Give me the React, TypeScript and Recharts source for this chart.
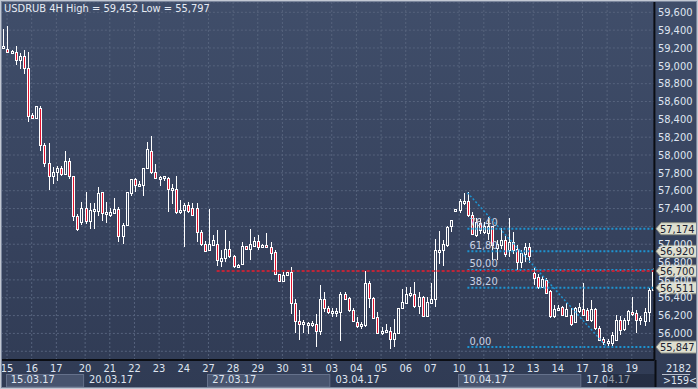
import React from 'react';
import { ComposedChart, Bar, XAxis, YAxis, CartesianGrid, ReferenceLine } from 'recharts';

// ---- data (USDRUB 4H candles, index 0..158) ----
const OPEN = [59.20,59.19,59.16,59.16,59.07,59.11,58.98,58.45,58.42,58.53,58.11,57.91,57.77,57.81,57.85,57.79,57.93,57.76,57.32,57.25,57.41,57.26,57.37,57.37,57.58,57.35,57.33,57.35,57.40,57.09,57.22,57.57,57.73,57.66,57.66,57.86,58.05,57.81,57.74,57.75,57.74,57.62,57.62,57.37,57.38,57.44,57.41,57.41,57.14,57.00,56.93,56.99,57.00,56.81,56.85,56.95,56.87,56.75,56.78,56.98,56.95,56.98,57.04,56.97,56.99,56.97,56.91,56.67,56.59,56.65,56.69,56.34,56.14,56.11,56.11,56.11,56.11,56.03,56.39,56.29,56.24,56.24,56.24,56.44,56.40,56.26,56.13,56.08,56.09,56.57,56.40,56.18,56.02,56.03,56.03,55.94,56.00,56.29,56.34,56.43,56.44,56.31,56.41,56.20,56.34,56.39,56.93,56.93,56.99,57.20,57.38,57.38,57.48,57.49,57.33,57.10,57.24,57.14,57.13,57.20,56.96,56.99,57.05,56.93,57.03,56.95,56.80,56.89,56.97,56.68,56.63,56.52,56.60,56.47,56.19,56.27,56.30,56.20,56.21,56.13,56.25,56.27,56.26,56.15,56.27,56.06,55.94,55.90,55.89,55.93,56.15,56.05,56.15,56.24,56.23,56.15,56.14,56.24,56.49];
const HIGH = [59.41,59.45,59.18,59.22,59.14,59.18,59.15,58.47,58.55,58.55,58.14,58.13,57.87,57.88,57.88,58.05,57.97,57.77,57.34,57.47,57.59,57.46,57.46,57.64,57.58,57.47,57.41,57.52,57.42,57.24,57.58,57.73,57.74,57.71,57.86,58.15,58.21,57.90,57.77,57.77,57.75,57.67,57.76,57.50,57.46,57.47,57.46,57.46,57.16,57.04,57.39,57.10,57.16,56.93,57.16,57.04,56.88,56.78,57.03,56.98,57.17,57.08,57.10,57.00,57.13,57.02,56.93,56.67,56.70,56.71,56.74,56.39,56.26,56.15,56.13,56.14,56.22,56.54,56.46,56.31,56.29,56.28,56.46,56.46,56.41,56.28,56.18,56.13,56.70,56.59,56.41,56.24,56.07,56.10,56.07,56.16,56.29,56.50,56.52,56.52,56.58,56.46,56.42,56.41,56.56,57.06,57.15,57.05,57.20,57.27,57.40,57.51,57.57,57.58,57.36,57.29,57.28,57.25,57.31,57.20,57.05,57.18,57.09,57.29,57.14,56.99,56.94,57.01,57.01,56.73,56.67,56.64,56.62,56.49,56.32,56.32,56.31,56.34,56.28,56.30,56.34,56.56,56.28,56.37,56.28,56.08,55.96,55.94,56.02,56.21,56.19,56.17,56.26,56.41,56.26,56.19,56.29,56.51,56.73];
const LOW = [59.20,59.15,59.13,59.01,58.96,58.91,58.37,58.40,58.42,58.04,57.87,57.61,57.68,57.71,57.76,57.78,57.73,57.26,57.15,57.22,57.23,57.17,57.17,57.32,57.26,57.24,57.30,57.34,57.03,57.00,57.21,57.54,57.59,57.65,57.54,57.84,57.79,57.73,57.65,57.71,57.36,57.45,57.34,57.34,56.97,57.35,57.33,57.03,56.98,56.91,56.93,56.98,56.76,56.75,56.80,56.85,56.73,56.73,56.77,56.93,56.82,56.97,56.93,56.96,56.96,56.82,56.67,56.59,56.59,56.64,56.22,56.00,55.93,56.00,55.99,56.07,55.85,55.98,56.24,56.22,56.18,56.18,55.92,56.37,56.24,56.13,56.06,56.05,56.07,56.28,56.16,55.99,55.98,56.01,55.83,55.85,55.99,56.28,56.33,56.41,56.29,56.22,56.18,56.20,56.34,56.30,56.78,56.76,56.97,57.14,57.37,57.35,57.44,57.30,57.10,57.08,57.12,57.12,57.05,56.82,56.82,56.95,56.86,56.86,56.89,56.69,56.73,56.80,56.79,56.54,56.50,56.51,56.44,56.17,56.17,56.25,56.20,56.19,56.08,56.12,56.23,56.19,56.14,56.13,56.04,55.91,55.87,55.85,55.84,55.91,55.98,56.03,56.09,56.19,56.01,56.09,56.08,56.13,56.47];
const CLOSE = [59.22,59.16,59.17,59.07,59.11,58.98,58.44,58.42,58.55,58.11,57.91,57.77,57.81,57.86,57.79,57.93,57.76,57.32,57.17,57.41,57.26,57.38,57.39,57.57,57.35,57.36,57.36,57.40,57.09,57.22,57.58,57.73,57.66,57.67,57.86,58.07,57.81,57.74,57.75,57.76,57.62,57.63,57.36,57.38,57.44,57.37,57.33,57.14,57.00,56.92,57.00,57.05,56.82,56.84,56.95,56.87,56.76,56.77,56.98,56.95,57.00,57.04,56.97,56.99,56.97,56.90,56.67,56.59,56.66,56.69,56.34,56.14,56.11,56.13,56.12,56.12,56.03,56.39,56.28,56.24,56.25,56.25,56.44,56.39,56.26,56.14,56.08,56.11,56.57,56.40,56.17,56.00,56.03,56.04,55.94,56.00,56.29,56.35,56.44,56.45,56.31,56.41,56.20,56.35,56.39,56.93,56.94,57.00,57.19,57.27,57.40,57.49,57.49,57.33,57.12,57.25,57.16,57.20,57.20,56.99,57.00,57.05,56.89,57.03,56.94,56.80,56.90,56.97,56.87,56.62,56.52,56.61,56.45,56.19,56.27,56.29,56.21,56.27,56.11,56.28,56.30,56.21,56.15,56.27,56.06,55.93,55.90,55.92,55.98,56.15,56.04,56.15,56.25,56.23,56.15,56.17,56.24,56.49,56.70];

const DAY_LABELS = ['15','16','17','20','21','22','23','24','27','28','29','30','31','03','04','05','06','07','10','11','12','13','14','17','18','19'];
const DAY_STARTS = [1,7,13,20,26,32,38,44,50,56,62,68,74,80,86,92,98,104,111,117,123,129,135,141,147,153];
const WEEK_LABELS = ['15.03.17','20.03.17','27.03.17','03.04.17','10.04.17','17.04.17'];
const WEEK_STARTS = [1,20,50,80,111,141];

const Y_TICKS = [55.8,56.0,56.2,56.4,56.6,56.8,57.0,57.2,57.4,57.6,57.8,58.0,58.2,58.4,58.6,58.8,59.0,59.2,59.4,59.6];
// tick labels fully covered by price tags in the reference
const COVERED_TICKS = [57.2, 55.8];
const Y_MIN = 55.702;
const Y_MAX = 59.7155;

const FIB_NAMES = ['76,40','61,80','50,00','38,20','0,00'];
const FIB_PRICES = [57.174, 56.920, 56.712, 56.511, 55.847];
const FIB_TAGS = ['57,174','56,920','','56,511','55,847'];
const FIB_START = 113;
const TREND = [{ x: 113, y: 57.578 }, { x: 147, y: 55.847 }];
const LAST_PRICE = 56.70;
const LAST_START = 52;

// ---- layout / style ----
const W = 698;
const H = 389;
const N = OPEN.length;
const M_LEFT = 0.875;
const Y_W = 43.6;
const SLOT = (W - M_LEFT - Y_W) / N;
const FONT = "'Liberation Sans Narrow','Arial Narrow','DejaVu Sans Condensed','Liberation Sans',Arial,sans-serif";
const TXT = '#dfe5f0';

const fmt = (v: number) => v.toFixed(3).replace('.', ',');

const Candle = (props: any) => {
  const { x, y, width, height, payload } = props;
  if (x == null || y == null || !payload) return null;
  const { o, h, l, c } = payload;
  const cx = Math.round(x + width / 2);
  const k = h > l ? height / (h - l) : 0;
  const py = (v: number) => y + (h - v) * k;
  const top = Math.round(py(Math.max(o, c)));
  let bot = Math.round(py(Math.min(o, c)));
  if (bot - top < 2) bot = top + 2;
  const yh = Math.round(y);
  const yl = Math.round(y + height);
  const bear = c < o;
  return (
    <g>
      {top > yh && <line x1={cx + 0.5} x2={cx + 0.5} y1={yh} y2={top} stroke="#ffffff" strokeWidth={1} />}
      {yl > bot && <line x1={cx + 0.5} x2={cx + 0.5} y1={bot} y2={yl} stroke="#ffffff" strokeWidth={1} />}
      <rect x={cx - 0.5} y={top + 0.5} width={2} height={bot - top} fill={bear ? '#e3142f' : 'none'} stroke="#ffffff" strokeWidth={1} />
    </g>
  );
};

const DayTick = (props: any) => {
  const { x, y, payload } = props;
  const v = payload?.value;
  const di = DAY_STARTS.indexOf(v);
  const wi = WEEK_STARTS.indexOf(v);
  let week = null;
  if (wi >= 0) {
    const next = wi + 1 < WEEK_STARTS.length ? WEEK_STARTS[wi + 1] : N;
    const left = Math.round(x) - 0.5;
    const wdt = (next - v) * SLOT - 1;
    week = (
      <g>
        {wi % 2 === 0 && (
          <rect x={left} y={y + 14.5} width={wdt} height={12.5} fill="#48546e" stroke="#65718b" strokeWidth={1} />
        )}
        <text x={x + 3.8} y={y + 23} fill={TXT} fontSize={11} fontFamily={FONT}>{WEEK_LABELS[wi]}</text>
      </g>
    );
  }
  return (
    <g>
      {week}
      {di >= 0 && (
        <text x={x} y={y + 11.7} textAnchor="middle" fill={TXT} fontSize={11} fontFamily={FONT}>{DAY_LABELS[di]}</text>
      )}
    </g>
  );
};

const PriceTick = (props: any) => {
  const { x, y, payload } = props;
  const v = payload?.value;
  if (COVERED_TICKS.some((t) => Math.abs(t - v) < 1e-6)) return <g />;
  return (
    <text x={x + 0.5} y={y + 3.7} fill={TXT} fontSize={11} fontFamily={FONT}>{fmt(v)}</text>
  );
};

const TAG_TIP = 656;
const drawTag = (yy: number, text: string) => (
  <g>
    <polygon
      points={`${TAG_TIP},${yy} ${TAG_TIP + 5},${yy - 6} ${W - 1.5},${yy - 6} ${W - 1.5},${yy + 6} ${TAG_TIP + 5},${yy + 6}`}
      fill="#dedfcf"
      stroke="#8d8f84"
      strokeWidth={1}
    />
    <text x={TAG_TIP + 4} y={yy + 4} fill="#1c2232" fontSize={11} fontFamily={FONT}>{text}</text>
  </g>
);

const fibLabel = (name: string, tag: string) => (lp: any) => {
  const vb = lp?.viewBox || {};
  const yy = vb.y ?? 0;
  return (
    <g>
      <text x={(vb.x ?? 0) + 2} y={yy - 2.5} fill="#c9d2e4" fontSize={11} fontFamily={FONT}>{name}</text>
      {tag ? drawTag(yy, tag) : null}
    </g>
  );
};

const lastLabel = (lp: any) => {
  const vb = lp?.viewBox || {};
  return drawTag(vb.y ?? 0, fmt(LAST_PRICE));
};

export default function App() {
  const data = OPEN.map((o, i) => ({ i, o, h: HIGH[i], l: LOW[i], c: CLOSE[i] }));
  return (
    <div
      style={{
        position: 'absolute',
        left: 0,
        top: 0,
        width: W,
        height: H,
        overflow: 'hidden',
        background: 'linear-gradient(to bottom, #404e6a 0%, #36425d 60%, #303b54 100%)',
        fontFamily: FONT,
      }}
    >
      <ComposedChart width={W} height={H} data={data} margin={{ top: 2, right: 0, bottom: 0, left: M_LEFT }}>
        <CartesianGrid stroke="#56637d" strokeDasharray="2 2" />
        <XAxis
          dataKey="i"
          type="number"
          domain={[-0.5, N - 0.5]}
          allowDataOverflow
          ticks={DAY_STARTS}
          interval={0}
          height={29}
          tickLine={false}
          tickSize={0}
          tickMargin={0}
          axisLine={{ stroke: '#0a0d13', strokeWidth: 2 }}
          tick={<DayTick />}
        />
        <YAxis
          orientation="right"
          width={Y_W}
          type="number"
          domain={[Y_MIN, Y_MAX]}
          allowDataOverflow
          ticks={Y_TICKS}
          interval={0}
          tickLine={false}
          tickSize={0}
          tickMargin={3}
          axisLine={{ stroke: '#0a0d13', strokeWidth: 2 }}
          tick={<PriceTick />}
        />
        {FIB_PRICES.map((p, idx) => (
          <ReferenceLine
            key={'fib' + idx}
            segment={[{ x: FIB_START, y: p }, { x: N - 0.5, y: p }]}
            stroke="#1e93d0"
            strokeWidth={2}
            strokeDasharray="2 2"
            ifOverflow="visible"
            label={fibLabel(FIB_NAMES[idx], FIB_TAGS[idx])}
          />
        ))}
        <ReferenceLine
          segment={TREND}
          stroke="#1e93d0"
          strokeWidth={1.5}
          strokeDasharray="2 2"
          ifOverflow="visible"
        />
        <ReferenceLine
          segment={[{ x: LAST_START, y: LAST_PRICE }, { x: N - 0.5, y: LAST_PRICE }]}
          stroke="#bf2538"
          strokeWidth={2}
          strokeDasharray="3 2"
          ifOverflow="visible"
          label={lastLabel}
        />
        <Bar dataKey={(d: any) => [d.l, d.h]} shape={<Candle />} isAnimationActive={false} barSize={3} />
      </ComposedChart>
      <svg
        width={W}
        height={H}
        style={{ position: 'absolute', left: 0, top: 0, pointerEvents: 'none' }}
      >
        <rect x={607} y={374} width={48} height={13} fill="rgba(16,22,36,0.35)" />
        <line x1={655.5} x2={655.5} y1={360} y2={H} stroke="#0a0d13" strokeWidth={2} />
        <text x={4} y={11.7} fill="#e6ebf4" fontSize={11} fontFamily={FONT}>USDRUB 4H High = 59,452 Low = 55,797</text>
        <text x={666} y={371.5} fill={TXT} fontSize={11} fontFamily={FONT}>2182</text>
        <line x1={662} x2={690} y1={374.5} y2={374.5} stroke="#b8c0ce" strokeWidth={1} />
        <text x={663} y={383.5} fill={TXT} fontSize={10.5} fontFamily={FONT}>{'>159<'}</text>
        <rect x={0.5} y={0.5} width={W - 1} height={H - 1} fill="none" stroke="#c2c8d3" strokeWidth={1} />
        <rect x={1.5} y={1.5} width={W - 3} height={H - 3} fill="none" stroke="#7b869c" strokeWidth={1} />
      </svg>
    </div>
  );
}
